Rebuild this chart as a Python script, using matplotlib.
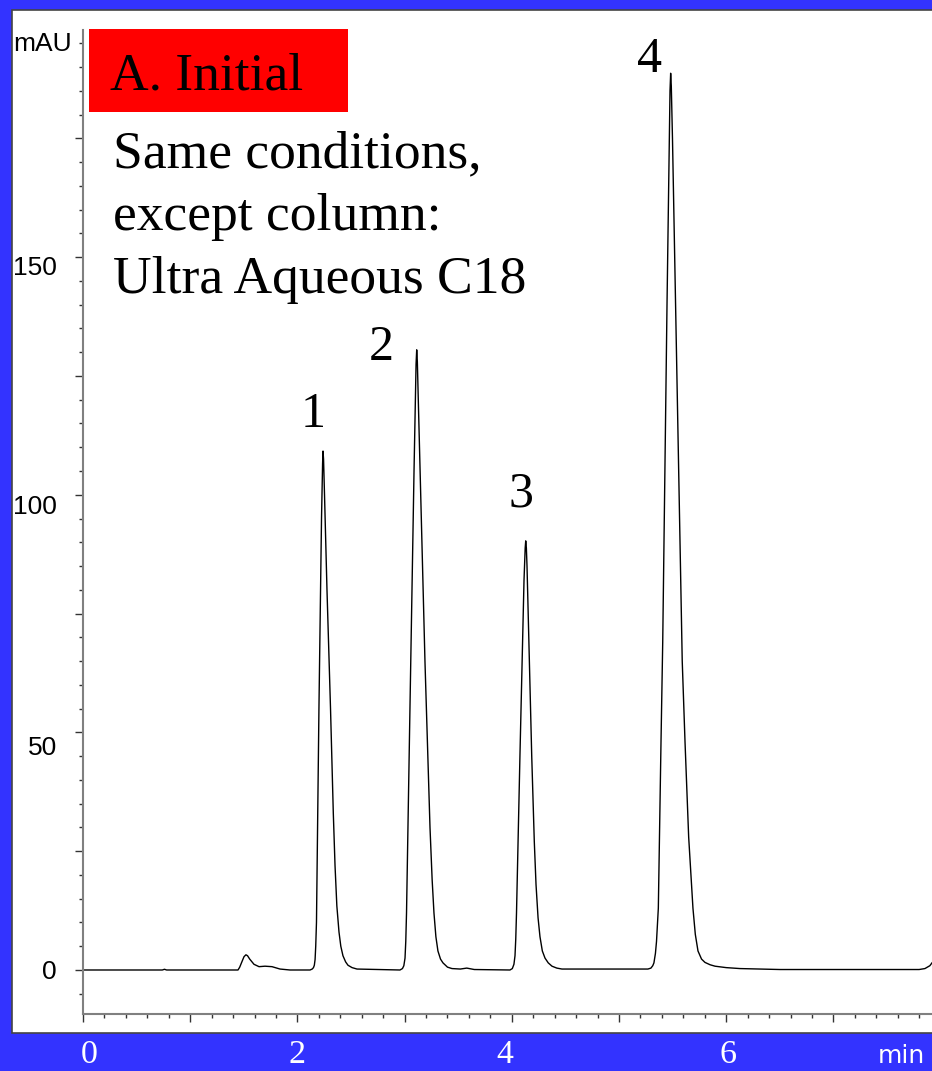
import matplotlib
matplotlib.use('Agg')
import matplotlib.pyplot as plt
from matplotlib.patches import Rectangle
from matplotlib.ticker import MultipleLocator
import numpy as np

# chromatogram trace (time in min, signal in mAU)
time_min = [0.00, 0.74, 0.76, 0.78, 1.446, 1.462, 1.480, 1.502, 1.520, 1.535, 1.555,
            1.595, 1.642, 1.698, 1.763, 1.838, 1.931,
            2.118, 2.138, 2.150, 2.158, 2.165, 2.171, 2.178, 2.201, 2.225, 2.235,
            2.239, 2.244, 2.253, 2.276, 2.309, 2.335, 2.351, 2.368, 2.388, 2.405,
            2.425, 2.450, 2.472, 2.510, 2.556,
            2.957, 2.980, 2.993, 3.004, 3.011, 3.018, 3.050, 3.088, 3.107, 3.113,
            3.119, 3.130, 3.190, 3.237, 3.257, 3.274, 3.292, 3.311, 3.335, 3.358,
            3.400, 3.442, 3.520, 3.580, 3.650,
            3.983, 4.005, 4.020, 4.030, 4.037, 4.044, 4.076, 4.114, 4.125, 4.130,
            4.136, 4.142, 4.186, 4.210, 4.226, 4.245, 4.263, 4.285, 4.310, 4.340,
            4.375, 4.420, 4.468,
            5.270, 5.298, 5.315, 5.326, 5.340, 5.350, 5.367, 5.392, 5.408, 5.448,
            5.476, 5.482, 5.488, 5.499, 5.590, 5.616, 5.650, 5.690, 5.712, 5.737,
            5.770, 5.802, 5.850, 5.896, 6.000, 6.129, 6.502,
            7.800, 7.854, 7.900, 7.920]
signal_mau = [0.0, 0.0, 0.15, 0.0, 0.0, 0.6, 1.6, 2.8, 3.2, 3.0, 2.3,
              1.2, 0.7, 0.8, 0.7, 0.2, 0.0,
              0.0, 0.2, 0.5, 1.0, 2.2, 5.0, 10.0, 55.0, 95.0, 106.5,
              109.2, 107.5, 100.0, 80.0, 55.0, 33.0, 22.0, 13.5, 8.0, 5.0,
              3.0, 1.7, 1.0, 0.5, 0.2,
              0.0, 0.3, 0.9, 2.5, 6.0, 12.0, 55.0, 105.0, 127.5, 130.5,
              128.0, 118.0, 65.0, 30.0, 19.0, 12.0, 7.0, 4.0, 2.3, 1.5,
              0.6, 0.3, 0.2, 0.4, 0.1,
              0.0, 0.3, 1.2, 3.0, 6.5, 12.0, 45.0, 82.0, 88.8, 90.3,
              88.8, 85.0, 45.0, 27.0, 18.0, 11.0, 7.0, 4.0, 2.5, 1.5,
              0.8, 0.4, 0.2,
              0.2, 0.4, 0.9, 1.5, 3.5, 6.0, 13.0, 48.0, 69.0, 140.0,
              185.0, 188.7, 186.0, 175.0, 65.0, 48.0, 28.0, 13.0, 7.5, 4.0,
              2.3, 1.6, 1.1, 0.8, 0.5, 0.3, 0.1,
              0.1, 0.3, 0.9, 1.5]

peak_labels = ['1', '2', '3', '4']
peak_label_x = [2.146, 2.78, 4.086, 5.28]
peak_label_y = [114.2, 128.3, 97.6, 188.9]

xtick_text = ['0', '2', '4', '6']
xtick_text_px = [89, 297, 505, 728]
ytick_values = [0, 50, 100, 150]
ytick_nudge_px = [-2, -16, -12, -11]

note_lines = ['Same conditions,', 'except column:', 'Ultra Aqueous C18']

W, H = 932, 1071


def px(x, y):
    return x / W, 1 - y / H


fig = plt.figure(figsize=(W / 100, H / 100), dpi=100)
fig.patch.set_facecolor('#3333ff')

# white panel behind everything
panel = Rectangle(px(12, 1033), (W - 12 + 5) / W, (1033 - 10) / H,
                  transform=fig.transFigure, facecolor='white',
                  edgecolor='#444444', linewidth=1.2, zorder=-5)
fig.patches.append(panel)

# title box
fig.patches.append(Rectangle(px(89, 112), (348 - 89) / W, (112 - 29) / H,
                             transform=fig.transFigure, facecolor='#ff0000',
                             edgecolor='none', zorder=-4))

ax = fig.add_axes([83 / W, 57 / H, (W - 83) / W, (1014 - 30) / H])
ax.set_zorder(2)
ax.set_facecolor('none')
ax.plot(time_min, signal_mau, color='black', linewidth=1.0)

ax.set_xlim(0, 7.92)
ax.set_ylim(-9.26, 197.8)
for s in ['top', 'right']:
    ax.spines[s].set_visible(False)
for s in ['left', 'bottom']:
    ax.spines[s].set_color('#808080')
    ax.spines[s].set_linewidth(1.5)

ax.xaxis.set_major_locator(MultipleLocator(1))
ax.xaxis.set_minor_locator(MultipleLocator(0.2))
ax.yaxis.set_major_locator(MultipleLocator(25))
ax.yaxis.set_minor_locator(MultipleLocator(5))
ax.tick_params(which='major', length=5.5, width=1, color='#333333', direction='out')
ax.tick_params(which='minor', length=3, width=1, color='#333333', direction='out')
ax.tick_params(labelbottom=False, labelleft=False)

# y tick labels
for v, nud in zip(ytick_values, ytick_nudge_px):
    y_pix = ax.transData.transform((0, v))[1] + nud
    fig.text(57 / W, y_pix / H, str(v), ha='right', va='center',
             fontsize=19, family='Liberation Sans', color='black')

fig.text(*px(13, 44), 'mAU', ha='left', va='center', fontsize=19,
         family='Liberation Sans', color='black')

# x tick labels in the blue band
for t, xp in zip(xtick_text, xtick_text_px):
    fig.text(*px(xp, 1063), t, ha='center', va='baseline', fontsize=24.5,
             family='Liberation Serif', color='white')
fig.text(*px(925, 1063), 'min', ha='right', va='baseline', fontsize=18,
         family='DejaVu Sans', color='white')

# peak numbers
for lab, x, y in zip(peak_labels, peak_label_x, peak_label_y):
    ax.text(x, y, lab, ha='center', va='baseline', fontsize=36,
            family='Liberation Serif', color='black')

fig.text(*px(110, 90), 'A. Initial', ha='left', va='baseline', fontsize=38.5,
         family='Liberation Serif', color='black')
for i, line in enumerate(note_lines):
    fig.text(*px(113, 167 + 63 * i), line, ha='left', va='baseline',
             fontsize=38.5, family='Liberation Serif', color='black')

fig.savefig('out.png', dpi=100, facecolor=fig.get_facecolor())
